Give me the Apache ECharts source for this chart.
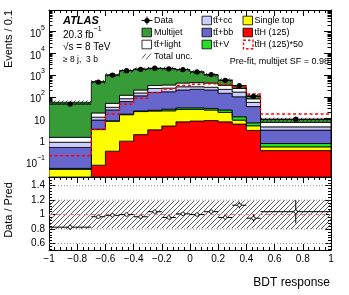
<!DOCTYPE html>
<html><head><meta charset="utf-8">
<script src="https://cdn.jsdelivr.net/npm/echarts@6/dist/echarts.min.js"></script>
<style>html,body{margin:0;padding:0;background:#fff}#c{width:349px;height:295px}</style>
</head><body><div id="c"></div>
<script>
// ---------- data ----------
const binLo = [-1, -0.7, -0.6, -0.5, -0.4, -0.3, -0.2, -0.1, 0, 0.1, 0.2, 0.3, 0.4, 0.5];
const binHi = [-0.7, -0.6, -0.5, -0.4, -0.3, -0.2, -0.1, 0, 0.1, 0.2, 0.3, 0.4, 0.5, 1];
// stacked backgrounds (Events / 0.1), bottom to top
const ttH       = [0.004, 0.07, 0.31, 0.9, 1.8, 3.0, 4.5, 7.0, 7.6, 8.0, 7.0, 5.5, 2.8, 0.33];
const singleTop = [0.041, 3.0, 7.2, 14, 19, 19, 18, 19, 18.4, 16.5, 12, 2.9, 1.8, 0.16];
const ttV       = [0.005, 0.1, 0.3, 1.0, 1.5, 2.0, 4.3, 5.0, 5.0, 4.5, 5.5, 3.6, 1.7, 0.21];
const ttbb      = [0.41, 5.3, 17, 44, 88, 136, 143, 175, 189, 177, 120, 88, 29, 2.2];
const ttcc      = [0.34, 3.0, 8, 22, 40, 80, 80, 84, 70, 69, 75, 65, 20, 1.2];
const ttlight   = [0.55, 6.5, 17, 36, 55, 90, 100, 140, 160, 155, 120, 75, 25, 2.5];
const multijet  = [54.3, 477, 960, 1482, 1695, 1670, 1680, 1350, 950, 580, 254, 52, 32, 2.3];
const ttH50     = [0.19, 3.2, 16, 45, 85, 155, 225, 330, 380, 400, 380, 290, 135, 16];
const dataVals  = [46, 480, 1000, 1600, 1850, 2080, 1950, 1800, 1400, 1050, 570, 330, 104, 9.3];
const dataErr   = [4, 22, 32, 40, 43, 46, 44, 42, 37, 32, 24, 18, 10, 1.4];
const totUnc    = [0.2, 0.19, 0.19, 0.19, 0.19, 0.19, 0.19, 0.19, 0.19, 0.19, 0.19, 0.19, 0.19, 0.2];
const ratioVals = [0.826, 0.97, 0.99, 1.0, 0.97, 1.04, 0.96, 1.01, 1.0, 1.04, 0.96, 1.13, 0.95, 1.04];
const ratioErr  = [0.04, 0.02, 0.015, 0.015, 0.015, 0.015, 0.015, 0.015, 0.02, 0.02, 0.03, 0.045, 0.05, 0.16];
const ratioMajorTicks = [0.6, 0.8, 1, 1.2, 1.4];
const ratioMinorTicks = [0.52,0.56,0.64,0.68,0.72,0.76,0.84,0.88,0.92,0.96,1.04,1.08,1.12,1.16,1.24,1.28,1.32,1.36,1.44,1.48];
const ratioGridLines = [0.6, 0.8, 1.2, 1.4];
const logMantissas = [2,3,4,5,6,7,8,9];
const logDecades = [-2,-1,0,1,2,3,4,5];

// ---------- helpers ----------
const FONT = '"Liberation Sans", Arial, Helvetica, sans-serif';
const TT = 'tt\u0304';
const Y_MIN = 0.02, Y_MAX = 1e6;
const nB = binLo.length;
const clampY = v => Math.max(v, Y_MIN);
const logMinorTicks = [];
logDecades.forEach(d => logMantissas.forEach(m => { const v = m * Math.pow(10, d); if (v >= Y_MIN && v <= Y_MAX) logMinorTicks.push(+v.toPrecision(3)); }));

function hatch(color, size, lw) {
  const c = document.createElement('canvas'); c.width = c.height = size;
  const g = c.getContext('2d'); g.strokeStyle = color; g.lineWidth = lw;
  g.beginPath();
  g.moveTo(0, size); g.lineTo(size, 0);
  g.moveTo(-1, 1); g.lineTo(1, -1);
  g.moveTo(size - 1, size + 1); g.lineTo(size + 1, size - 1);
  g.stroke();
  return { image: c, repeat: 'repeat' };
}

const layers = [
  { name: TT + 'H (125)', vals: ttH, color: '#ff0000' },
  { name: 'Single top', vals: singleTop, color: '#ffff00' },
  { name: TT + '+V', vals: ttV, color: '#22e022' },
  { name: TT + '+bb', vals: ttbb, color: '#6666cc' },
  { name: TT + '+cc', vals: ttcc, color: '#ccccff' },
  { name: TT + '+light', vals: ttlight, color: '#ffffff' },
  { name: 'Multijet', vals: multijet, color: '#379b37' }
];
let cum = binLo.map(() => 0);
layers.forEach(L => { L.lo = cum.slice(); cum = cum.map((c, i) => c + L.vals[i]); L.hi = cum.slice(); });
const totalPred = cum;

function stepPolygon(lowerArr, upperArr, style) {
  return function (params, api) {
    if (params.dataIndex !== 0) return null;
    const pts = [];
    for (let i = 0; i < nB; i++) { pts.push(api.coord([binLo[i], clampY(upperArr[i])])); pts.push(api.coord([binHi[i], clampY(upperArr[i])])); }
    for (let i = nB - 1; i >= 0; i--) { pts.push(api.coord([binHi[i], clampY(lowerArr[i])])); pts.push(api.coord([binLo[i], clampY(lowerArr[i])])); }
    return { type: 'polygon', shape: { points: pts }, style: style };
  };
}
const binData = arr => binLo.map((x, i) => [(binLo[i] + binHi[i]) / 2, arr[i]]);

const series = [];
layers.forEach(L => {
  series.push({
    type: 'custom', name: L.name, xAxisIndex: 0, yAxisIndex: 0, clip: true,
    data: binData(L.hi),
    renderItem: stepPolygon(L.lo, L.hi, { fill: L.color, stroke: '#000', lineWidth: 0.8 })
  });
});
// total uncertainty band (main)
const uncLo = totalPred.map((t, i) => t * (1 - totUnc[i]));
const uncHi = totalPred.map((t, i) => t * (1 + totUnc[i]));
series.push({
  type: 'custom', name: 'Total unc.', xAxisIndex: 0, yAxisIndex: 0, clip: true,
  data: binData(uncHi),
  renderItem: stepPolygon(uncLo, uncHi, { fill: hatch('#1a1a1a', 4, 0.8), stroke: null })
});
// ttH x 50 dashed
series.push({
  type: 'custom', name: TT + 'H (125)*50', xAxisIndex: 0, yAxisIndex: 0, clip: true,
  data: binData(ttH50),
  renderItem: function (params, api) {
    if (params.dataIndex !== 0) return null;
    const pts = [];
    for (let i = 0; i < nB; i++) { pts.push(api.coord([binLo[i], ttH50[i]])); pts.push(api.coord([binHi[i], ttH50[i]])); }
    return { type: 'polyline', shape: { points: pts }, style: { stroke: '#ff0000', lineWidth: 1.4, lineDash: [3, 2.5], fill: null } };
  }
});
// data points
function pointRender(openMarker) {
  return function (params, api) {
    const x = api.value(0), y = api.value(1), e = api.value(2), lo = api.value(3), hi = api.value(4);
    const c = api.coord([x, y]);
    const l = api.coord([lo, y]), r = api.coord([hi, y]);
    const t = api.coord([x, y + e]), b = api.coord([x, y - e]);
    const ls = { stroke: '#000', lineWidth: 1 };
    return { type: 'group', children: [
      { type: 'line', shape: { x1: l[0], y1: c[1], x2: r[0], y2: c[1] }, style: ls },
      { type: 'line', shape: { x1: c[0], y1: t[1], x2: c[0], y2: b[1] }, style: ls },
      { type: 'circle', shape: { cx: c[0], cy: c[1], r: openMarker ? 1.8 : 2.6 }, style: openMarker ? { fill: '#fff', stroke: '#000', lineWidth: 0.8 } : { fill: '#000' } }
    ] };
  };
}
series.push({
  type: 'custom', name: 'Data', xAxisIndex: 0, yAxisIndex: 0, clip: true,
  data: binLo.map((x, i) => [(binLo[i] + binHi[i]) / 2, dataVals[i], dataErr[i], binLo[i], binHi[i]]),
  renderItem: pointRender(false)
});
// ratio panel
series.push({
  type: 'custom', name: 'ratioGrid', xAxisIndex: 2, yAxisIndex: 4, clip: true,
  data: ratioGridLines.map(v => [0, v]),
  renderItem: function (params, api) {
    const a = api.coord([-1, api.value(1)]), b = api.coord([1, api.value(1)]);
    return { type: 'line', shape: { x1: a[0], y1: a[1], x2: b[0], y2: b[1] }, style: { stroke: '#777', lineWidth: 0.8, lineDash: [1, 2] } };
  }
});
series.push({
  type: 'custom', name: 'ratioUnc', xAxisIndex: 2, yAxisIndex: 4, clip: true,
  data: binData(totUnc),
  renderItem: function (params, api) {
    if (params.dataIndex !== 0) return null;
    const pts = [];
    for (let i = 0; i < nB; i++) { pts.push(api.coord([binLo[i], 1 + totUnc[i]])); pts.push(api.coord([binHi[i], 1 + totUnc[i]])); }
    for (let i = nB - 1; i >= 0; i--) { pts.push(api.coord([binHi[i], 1 - totUnc[i]])); pts.push(api.coord([binLo[i], 1 - totUnc[i]])); }
    return { type: 'polygon', shape: { points: pts }, style: { fill: hatch('#333', 5, 0.8), stroke: null } };
  }
});
series.push({
  type: 'custom', name: 'ratioOne', xAxisIndex: 2, yAxisIndex: 4, clip: true,
  data: [[0, 1]],
  renderItem: function (params, api) {
    const a = api.coord([-1, api.value(1)]), b = api.coord([1, api.value(1)]);
    return { type: 'line', shape: { x1: a[0], y1: a[1], x2: b[0], y2: b[1] }, style: { stroke: '#f07070', lineWidth: 1, lineDash: [4, 3] } };
  }
});
series.push({
  type: 'custom', name: 'ratioData', xAxisIndex: 2, yAxisIndex: 4, clip: true,
  data: binLo.map((x, i) => [(binLo[i] + binHi[i]) / 2, ratioVals[i], ratioErr[i], binLo[i], binHi[i]]),
  renderItem: pointRender(true)
});

// ---------- axes ----------
const blk = { color: '#000', width: 1 };
const fmtX = v => { const s = String(Math.round(v * 10) / 10); return s.replace('-', '\u2212'); };
function xAxisCfg(grid, pos, showLabels) {
  return {
    type: 'value', gridIndex: grid, position: pos, min: -1, max: 1, interval: 0.2,
    axisLine: { show: true, onZero: false, lineStyle: blk },
    axisTick: { show: true, inside: true, length: 6, lineStyle: blk },
    minorTick: { show: true, splitNumber: 5, length: 3, lineStyle: blk },
    splitLine: { show: false }, minorSplitLine: { show: false },
    axisLabel: { show: showLabels, margin: 4, fontSize: 10, fontFamily: FONT, color: '#000', formatter: fmtX, showMinLabel: true, showMaxLabel: true }
  };
}
const logFmt = v => {
  const k = Math.round(Math.log10(v));
  if (Math.abs(Math.log10(v) - k) > 1e-6 || k > 5) return '';
  if (k === 0) return '{b|1}';
  if (k === 1) return '{b|10}';
  return '{b|10}{s|' + (k < 0 ? '\u2212' + (-k) : k) + '}';
};
function logAxisCfg(pos, major, labels) {
  return {
    type: 'log', logBase: 10, gridIndex: 0, position: pos, min: Y_MIN, max: Y_MAX,
    axisLine: { show: major, onZero: false, lineStyle: blk },
    axisTick: major ? { show: true, inside: true, length: 7, lineStyle: blk }
                    : { show: true, inside: true, length: 3.5, lineStyle: blk, customValues: logMinorTicks },
    minorTick: { show: false }, splitLine: { show: false },
    axisLabel: labels ? {
      show: true, margin: 4, formatter: logFmt, color: '#000', showMinLabel: false, showMaxLabel: false,
      rich: { b: { fontSize: 10, fontFamily: FONT, color: '#000', lineHeight: 15, verticalAlign: 'bottom' },
              s: { fontSize: 7, fontFamily: FONT, color: '#000', lineHeight: 15, verticalAlign: 'top' } }
    } : { show: false }
  };
}
function ratioAxisCfg(pos, major, labels) {
  return {
    type: 'value', gridIndex: 1, position: pos, min: 0.51, max: 1.52,
    axisLine: { show: major, onZero: false, lineStyle: blk },
    axisTick: { show: true, inside: true, length: major ? 6 : 3, lineStyle: blk, customValues: major ? ratioMajorTicks : ratioMinorTicks },
    minorTick: { show: false }, splitLine: { show: false },
    axisLabel: labels ? { show: true, margin: 4, fontSize: 10, fontFamily: FONT, color: '#000', customValues: ratioMajorTicks,
                          formatter: v => String(Math.round(v * 10) / 10) } : { show: false }
  };
}

const option = {
  animation: false,
  backgroundColor: '#fff',
  grid: [
    { left: 49, top: 10, width: 282, height: 167 },
    { left: 49, top: 177, width: 282, height: 73 }
  ],
  xAxis: [xAxisCfg(0, 'bottom', false), xAxisCfg(0, 'top', false), xAxisCfg(1, 'bottom', true), xAxisCfg(1, 'top', false)],
  yAxis: [
    logAxisCfg('left', true, true), logAxisCfg('left', false, false),
    logAxisCfg('right', true, false), logAxisCfg('right', false, false),
    ratioAxisCfg('left', true, true), ratioAxisCfg('left', false, false),
    ratioAxisCfg('right', true, false), ratioAxisCfg('right', false, false)
  ],
  series: series,
  graphic: (function () {
    const g = [];
    const txt = (x, y, text, extra) => g.push({ type: 'text', x: x, y: y, z: 100, style: Object.assign({ text: text, fill: '#000', fontFamily: FONT, fontSize: 9, verticalAlign: 'middle', align: 'left' }, extra || {}) });
    // left block
    txt(63, 20.5, 'ATLAS', { fontSize: 11, fontWeight: 'bold', fontStyle: 'italic' });
    txt(63, 33, '{a|20.3 fb}{s|\u22121}', { rich: { a: { fontSize: 10, fontFamily: FONT, lineHeight: 14, verticalAlign: 'bottom' }, s: { fontSize: 7, fontFamily: FONT, lineHeight: 14, verticalAlign: 'top' } } });
    txt(63, 47, '\u221As = 8 TeV', { fontSize: 10 });
    txt(63, 60, '\u2265 8 j,  3 b', { fontSize: 8.5 });
    txt(329, 62, 'Pre-fit, multijet SF = 0.98', { fontSize: 9, align: 'right' });
    // axis titles
    g.push({ type: 'text', x: 9, y: 10, rotation: Math.PI / 2, style: { text: 'Events / 0.1', fill: '#000', fontFamily: FONT, fontSize: 11, align: 'right', verticalAlign: 'middle' } });
    g.push({ type: 'text', x: 9, y: 210, rotation: Math.PI / 2, style: { text: 'Data / Pred', fill: '#000', fontFamily: FONT, fontSize: 11, align: 'center', verticalAlign: 'middle' } });
    txt(330, 283, 'BDT response', { fontSize: 12, align: 'right' });
    // legend
    const box = (x, yc, fill, extra) => g.push({ type: 'rect', z: 100, shape: { x: x, y: yc - 4.3, width: 9.5, height: 8.6 }, style: Object.assign({ fill: fill, stroke: '#000', lineWidth: 0.8 }, extra || {}) });
    const rows = [20.5, 32.5, 44.5, 56.5];
    // col 1
    g.push({ type: 'line', z: 100, shape: { x1: 141.5, y1: rows[0], x2: 152.5, y2: rows[0] }, style: { stroke: '#000', lineWidth: 1 } });
    g.push({ type: 'line', z: 100, shape: { x1: 147, y1: rows[0] - 4, x2: 147, y2: rows[0] + 4 }, style: { stroke: '#000', lineWidth: 1 } });
    g.push({ type: 'circle', z: 100, shape: { cx: 147, cy: rows[0], r: 2.6 }, style: { fill: '#000' } });
    txt(154, rows[0], 'Data');
    box(142, rows[1], '#379b37'); txt(154, rows[1], 'Multijet');
    box(142, rows[2], '#ffffff'); txt(154, rows[2], TT + '+light');
    g.push({ type: 'line', z: 100, shape: { x1: 142, y1: rows[3] + 2, x2: 146, y2: rows[3] - 3 }, style: { stroke: '#333', lineWidth: 0.8 } });
    g.push({ type: 'line', z: 100, shape: { x1: 146, y1: rows[3] + 3, x2: 151, y2: rows[3] - 3 }, style: { stroke: '#333', lineWidth: 0.8 } });
    txt(154, rows[3], 'Total unc.');
    // col 2
    box(202, rows[0], '#ccccff'); txt(213, rows[0], TT + '+cc');
    box(202, rows[1], '#6666cc'); txt(213, rows[1], TT + '+bb');
    box(202, rows[2], '#22e022'); txt(213, rows[2], TT + '+V');
    // col 3
    box(243, rows[0], '#ffff00'); txt(254.5, rows[0], 'Single top');
    box(243, rows[1], '#ff0000'); txt(254.5, rows[1], TT + 'H (125)');
    box(243.5, rows[2], 'none', { stroke: '#ff0000', lineWidth: 1.4, lineDash: [2.5, 2] }); txt(254.5, rows[2], TT + 'H (125)*50');
    return g;
  })()
};
const chart = echarts.init(document.getElementById('c'));
chart.setOption(option);
</script>
</body></html>
